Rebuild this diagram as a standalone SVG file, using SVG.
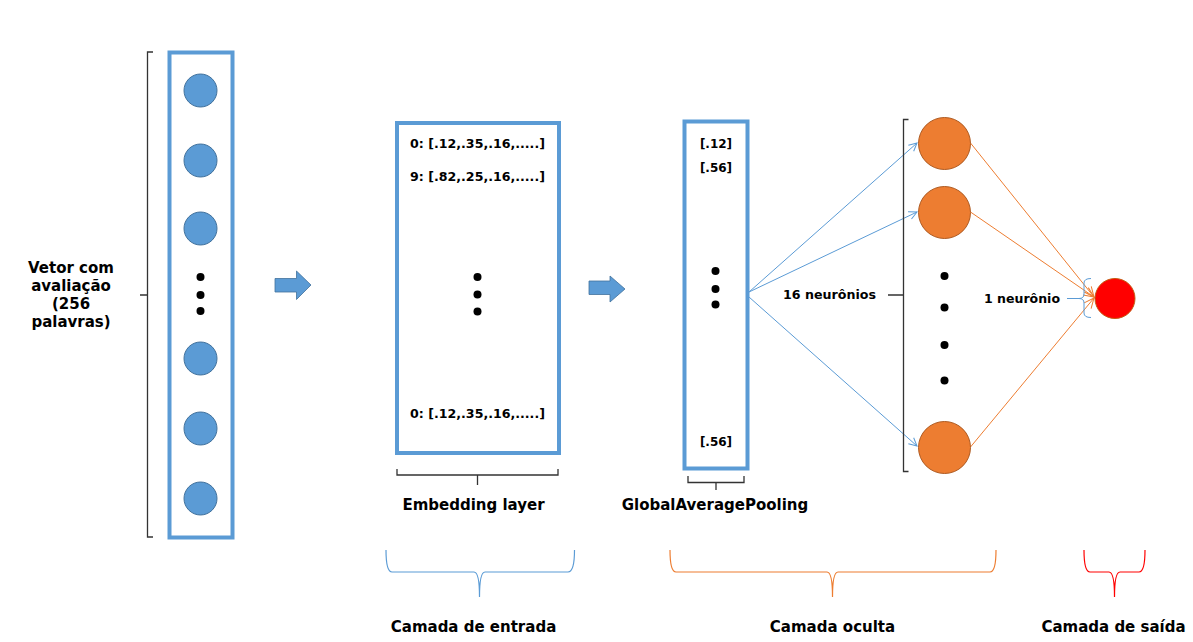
<svg xmlns="http://www.w3.org/2000/svg" width="1193" height="642" viewBox="0 0 1193 642">
<defs>
<style>
text{font-family:"DejaVu Sans","Verdana",sans-serif;font-weight:bold;fill:#000}
.lbl{font-size:15px;text-anchor:middle}
.dat{font-size:12.6px;text-anchor:middle}
.sm{font-size:12px;text-anchor:middle}
.box{fill:#fff;stroke:#5B9BD5;stroke-width:4}
.bn{fill:#5B9BD5;stroke:#41719C;stroke-width:1}
.on{fill:#ED7D31;stroke:#AE5A21;stroke-width:1}
.dot{fill:#000}
.brk{fill:none;stroke:#333;stroke-width:1.3}
.bl{fill:none;stroke:#5B9BD5;stroke-width:1}
.ol{fill:none;stroke:#ED7D31;stroke-width:1}
.arrow{fill:#5B9BD5;stroke:#41719C;stroke-width:0.8}
</style>
<marker id="mb" markerWidth="10" markerHeight="10" refX="9" refY="5" orient="auto" markerUnits="userSpaceOnUse">
<path d="M1,1 L9,5 L1,9" fill="none" stroke="#5B9BD5" stroke-width="1"/>
</marker>
<marker id="mo" markerWidth="12" markerHeight="12" refX="11" refY="6" orient="auto" markerUnits="userSpaceOnUse">
<path d="M1,1.5 L11,6 L1,10.5" fill="none" stroke="#ED7D31" stroke-width="1"/>
</marker>
</defs>
<rect width="1193" height="642" fill="#fff"/>

<g id="input-label">
<text class="lbl" x="71" y="273">Vetor com</text>
<text class="lbl" x="71" y="291">avaliação</text>
<text class="lbl" x="71" y="309">(256</text>
<text class="lbl" x="71" y="327">palavras)</text>
<path class="brk" d="M153,52 L147.5,52 L147.5,537 L153,537 M147.5,295 L140,295"/>
</g>

<g id="input-vector">
<rect class="box" x="169.5" y="52.5" width="63" height="485"/>
<circle class="bn" cx="200.5" cy="90.5" r="16.5"/>
<circle class="bn" cx="200.5" cy="160.5" r="16.5"/>
<circle class="bn" cx="200.5" cy="228.5" r="16.5"/>
<circle class="dot" cx="200.5" cy="277" r="4"/>
<circle class="dot" cx="200.5" cy="295" r="4"/>
<circle class="dot" cx="200.5" cy="311" r="4"/>
<circle class="bn" cx="200.5" cy="358.5" r="16.5"/>
<circle class="bn" cx="200.5" cy="428.5" r="16.5"/>
<circle class="bn" cx="200.5" cy="498.5" r="16.5"/>
</g>

<g id="arrow1">
<path class="arrow" d="M275,278.5 L296.5,278.5 L296.5,271 L311,285 L296.5,299.5 L296.5,292 L275,292 Z"/>
</g>

<g id="embedding">
<rect class="box" x="397" y="123" width="162" height="330"/>
<text class="dat" x="477.5" y="148">0: [.12,.35,.16,.....]</text>
<text class="dat" x="477.5" y="181">9: [.82,.25,.16,.....]</text>
<circle class="dot" cx="477.5" cy="277" r="4"/>
<circle class="dot" cx="477.5" cy="294.5" r="4"/>
<circle class="dot" cx="477.5" cy="311.5" r="4"/>
<text class="dat" x="477.5" y="418">0: [.12,.35,.16,.....]</text>
<path class="brk" d="M397,469 L397,475 L558,475 L558,469 M477.5,475 L477.5,485"/>
<text class="lbl" x="473.5" y="510">Embedding layer</text>
</g>

<g id="arrow2">
<path class="arrow" d="M589,281 L610,281 L610,276 L625,289 L610,302 L610,294.5 L589,294.5 Z"/>
</g>

<g id="pooling">
<rect class="box" x="684.5" y="121.5" width="63" height="347"/>
<text class="sm" x="716" y="148">[.12]</text>
<text class="sm" x="716" y="172">[.56]</text>
<circle class="dot" cx="715.5" cy="271" r="4"/>
<circle class="dot" cx="715.5" cy="289" r="4"/>
<circle class="dot" cx="715.5" cy="304.5" r="4"/>
<text class="sm" x="716" y="446">[.56]</text>
<path class="brk" d="M688,476 L688,482.5 L744,482.5 L744,476 M716,482.5 L716,490"/>
<text class="lbl" x="715" y="510">GlobalAveragePooling</text>
</g>

<g id="connectors">
<line class="bl" x1="749" y1="292" x2="917" y2="143" marker-end="url(#mb)"/>
<line class="bl" x1="749" y1="292" x2="917" y2="212" marker-end="url(#mb)"/>
<line class="bl" x1="749" y1="297" x2="917" y2="446" marker-end="url(#mb)"/>
<line class="ol" x1="970.5" y1="143" x2="1094" y2="297" marker-end="url(#mo)"/>
<line class="ol" x1="970.5" y1="212" x2="1094" y2="297" marker-end="url(#mo)"/>
<line class="ol" x1="970.5" y1="447" x2="1094" y2="298" marker-end="url(#mo)"/>
</g>

<g id="hidden-layer">
<text class="sm" x="829.5" y="299" textLength="93" lengthAdjust="spacingAndGlyphs">16 neurônios</text>
<path class="brk" d="M908.5,119.5 L903.5,119.5 L903.5,471.5 L908.5,471.5 M903.5,295 L888,295"/>
<circle class="on" cx="944.5" cy="143.5" r="26"/>
<circle class="on" cx="944.5" cy="212.5" r="26"/>
<circle class="dot" cx="944.5" cy="276" r="4"/>
<circle class="dot" cx="944.5" cy="307.5" r="4"/>
<circle class="dot" cx="944.5" cy="345" r="4"/>
<circle class="dot" cx="944.5" cy="380.5" r="4"/>
<circle class="on" cx="944.5" cy="447.5" r="26"/>
</g>

<g id="output-layer">
<text class="sm" x="1022" y="302.5" textLength="76" lengthAdjust="spacingAndGlyphs">1 neurônio</text>
<path class="bl" d="M1067,298.5 L1079,298.5"/>
<path class="bl" d="M1091,278.5 Q1084,278.5 1084,283 L1084,294 Q1084,298.5 1079,298.5 Q1084,298.5 1084,303 L1084,313 Q1084,317.5 1091,317.5"/>
<circle cx="1115" cy="298.5" r="20" fill="#FF0000" stroke="#C55A11" stroke-width="1"/>
</g>

<g id="layer-groups">
<path fill="none" stroke="#5B9BD5" stroke-width="1.2" d="M386,550 Q386,572 392,572 L474,572 Q479.5,572 479.5,597 Q479.5,572 485,572 L568,572 Q574.5,572 574.5,550"/>
<text class="lbl" x="473.5" y="632">Camada de entrada</text>
<path fill="none" stroke="#ED7D31" stroke-width="1.2" d="M670,550 Q670,572 676,572 L827,572 Q832.5,572 832.5,597 Q832.5,572 838,572 L990,572 Q996,572 996,550"/>
<text class="lbl" x="832.5" y="632">Camada oculta</text>
<path fill="none" stroke="#FF0000" stroke-width="1.2" d="M1084,550 Q1084,572 1090,572 L1109,572 Q1114.5,572 1114.5,597 Q1114.5,572 1120,572 L1139,572 Q1145,572 1145,550"/>
<text class="lbl" x="1113.5" y="632">Camada de saída</text>
</g>
</svg>
